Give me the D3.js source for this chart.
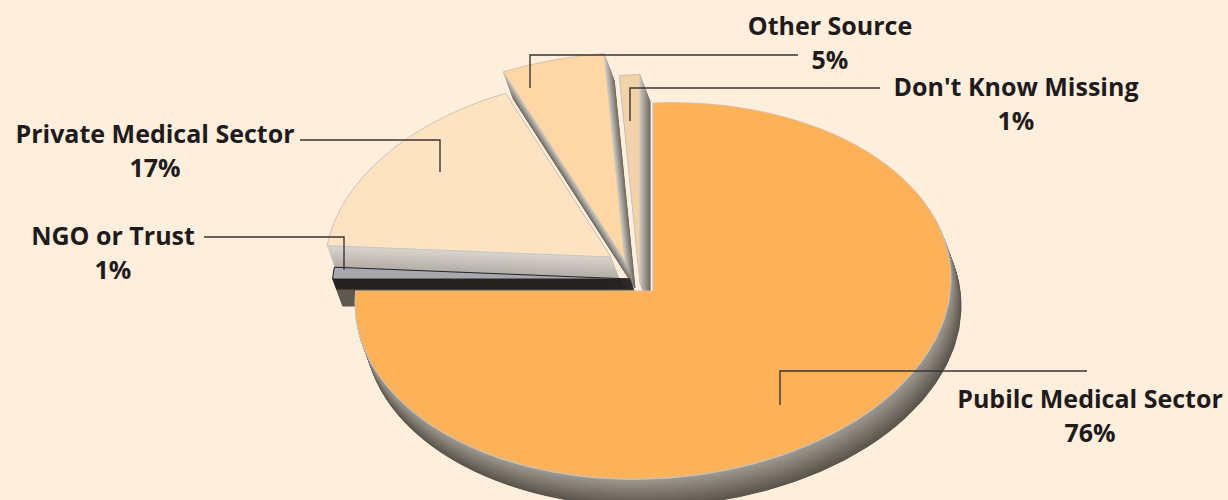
<!DOCTYPE html>
<html>
<head>
<meta charset="utf-8">
<script src="https://cdn.jsdelivr.net/npm/d3@7"></script>
<style>
html,body{margin:0;padding:0;background:#FEEEDC;}
svg{display:block;}
text{font-family:"Open Sans",sans-serif;font-weight:700;font-size:25px;fill:#1F1B1C;text-anchor:middle;}
</style>
</head>
<body>
<svg id="chart" width="1228" height="500"></svg>
<script>
// Source shares, in percent, in clockwise order from twelve o'clock
const categories = ["Pubilc Medical Sector", "NGO or Trust", "Private Medical Sector", "Other Source", "Don't Know Missing"];
const shares = [76, 1, 17, 5, 1];

// Appearance of each slice: top face, side face (near and far shade)
const topFaces = ["#FDB25A", "#A7A8AD", "#FDE3C2", "#FFD6A5", "#F2D2A9"];
const sideNear = ["#9C978E", "#262222", "#D8D3CB", "#C4C0B8", "#C4C0B8"];
const sideFar = ["#5A544C", "#5E5850", "#A8A39B", "#6E6860", "#6E6860"];

// Slice displacement from the pie centre and outer radius factor
const shifts = [[0, 0], [-23, -12], [-42, -34], [-28, -30], [-13, -8]];
const reach = [1, 1, 0.96, 1.11, 1.11];
const drawOrder = [3, 4, 2, 1, 0];

// Value labels: centre x, first baseline
const labelSpots = [[1090, 408], [113, 245], [155, 143], [830, 35], [1016, 96]];
// Leader lines
const leaders = [
  [[1087, 371], [780, 371], [780, 405]],
  [[204, 237], [344, 237], [344, 270]],
  [[300, 140], [440, 140], [440, 172]],
  [[798, 55], [530, 55], [530, 88]],
  [[880, 88], [630, 88], [630, 121]]
];

const centre = [653, 291], rx = 298, ry = 188, unit = 100;
const depth = [10, 27];
const lean = ry * Math.sin(2 * Math.PI * shares[0] / 100 - 1.5 * Math.PI) / Math.cos(2 * Math.PI * shares[0] / 100 - 1.5 * Math.PI);

const svg = d3.select("#chart");
const arcs = d3.pie().sort(null).value(d => d)(shares);
const arc = d3.arc().innerRadius(0);
// Tilted disc projection: the first slice's edges stay on the screen axes
const tilt = `matrix(${rx / unit},${-lean / unit},0,${ry / unit},0,0)`;

drawOrder.forEach(i => {
  const a = arcs[i];
  const d = arc.outerRadius(unit * reach[i])(a);
  const g = svg.append("g").attr("transform", `translate(${centre[0] + shifts[i][0]},${centre[1] + shifts[i][1]})`);
  const steps = d3.range(depth[1], 0, -1);
  const shade = i === 1
    ? s => (s <= 10 ? sideNear[1] : sideFar[1])
    : d3.scaleLinear().domain([1, depth[1]]).range([sideNear[i], sideFar[i]]);
  g.selectAll("path.side").data(steps).join("path")
    .attr("class", "side")
    .attr("d", d)
    .attr("fill", s => shade(s))
    .attr("stroke", s => shade(s))
    .attr("stroke-width", 1)
    .attr("vector-effect", "non-scaling-stroke")
    .attr("transform", s => `translate(${depth[0] * s / depth[1]},${s}) ${tilt}`);
  g.append("path")
    .attr("d", d)
    .attr("fill", topFaces[i])
    .attr("stroke", i === 1 ? "#262222" : "#C9C3BA")
    .attr("stroke-width", 1)
    .attr("vector-effect", "non-scaling-stroke")
    .attr("transform", tilt);
});

// Leaders over the slices
const line = d3.line();
svg.selectAll("path.leader").data(leaders).join("path")
  .attr("class", "leader")
  .attr("d", line)
  .attr("fill", "none")
  .attr("stroke", "#3A3532")
  .attr("stroke-width", 1.4);

// Category and share labels
categories.forEach((name, i) => {
  const t = svg.append("text").attr("x", labelSpots[i][0]).attr("y", labelSpots[i][1]);
  t.append("tspan").attr("x", labelSpots[i][0]).text(name);
  t.append("tspan").attr("x", labelSpots[i][0]).attr("dy", 34).text(shares[i] + "%");
});
</script>
</body>
</html>
